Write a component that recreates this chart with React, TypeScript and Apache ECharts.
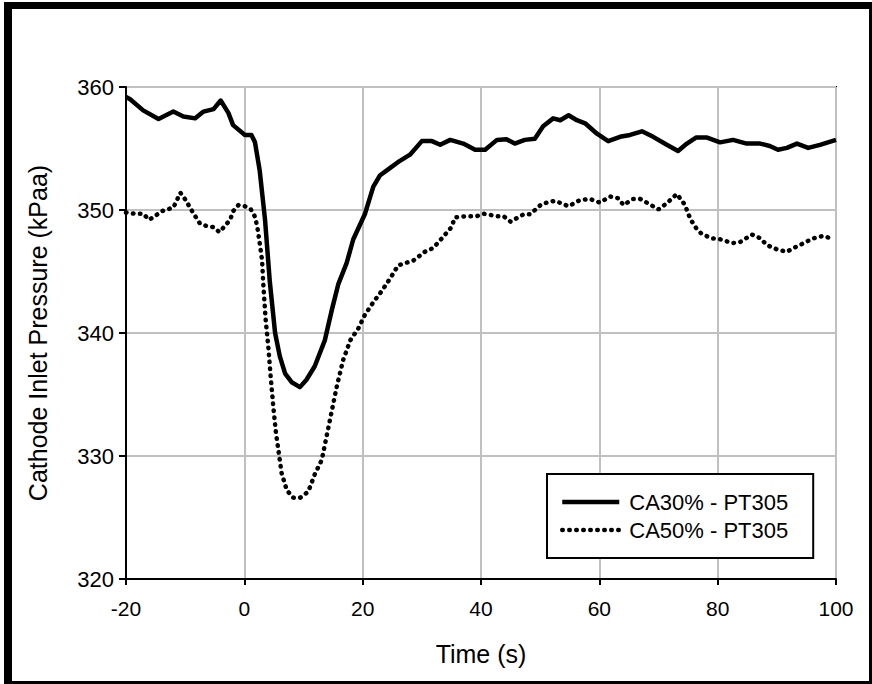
import React, { useEffect, useRef } from "react";
import * as echarts from "echarts";

const seriesNames = ["CA30% - PT305", "CA50% - PT305"];

const timeA = [-20, -19.3, -17.1, -14.5, -12.0, -10.3, -8.3, -6.9, -5.2, -4.0, -2.7, -1.9, 0.1, 1.2, 1.8, 2.6, 3.5, 4.3, 5.2, 6.0, 6.9, 8.0, 9.4, 10.5, 11.9, 13.6, 14.8, 15.9, 17.3, 18.4, 20.4, 21.8, 22.9, 24.6, 26.3, 28.0, 30.0, 31.7, 33.1, 34.8, 37.0, 39.0, 40.7, 42.7, 44.3, 45.7, 47.4, 49.1, 50.5, 52.2, 53.4, 54.8, 56.2, 57.6, 59.6, 61.5, 63.5, 65.2, 67.2, 69.1, 71.4, 73.3, 74.8, 76.4, 78.1, 80.4, 82.6, 84.9, 87.2, 88.8, 90.2, 91.7, 93.4, 95.3, 97.3, 100];
const pressureA = [359.2, 359.0, 358.1, 357.4, 358.0, 357.6, 357.45, 358.0, 358.2, 358.9, 357.9, 356.9, 356.1, 356.1, 355.5, 353.2, 349.2, 344.2, 340.0, 338.1, 336.7, 336.0, 335.6, 336.2, 337.3, 339.4, 341.9, 344.0, 345.7, 347.6, 349.7, 351.9, 352.8, 353.4, 354.0, 354.5, 355.6, 355.6, 355.3, 355.7, 355.4, 354.9, 354.9, 355.7, 355.75, 355.4, 355.7, 355.8, 356.8, 357.45, 357.3, 357.7, 357.3, 357.05, 356.2, 355.6, 355.95, 356.1, 356.4, 355.95, 355.3, 354.8, 355.4, 355.9, 355.9, 355.5, 355.7, 355.4, 355.4, 355.2, 354.9, 355.05, 355.4, 355.05, 355.3, 355.7];

const timeB = [-20, -18.5, -17.1, -16.1, -15.1, -14.0, -12.0, -11.3, -10.8, -9.9, -9.2, -8.3, -7.5, -6.4, -5.2, -4.2, -3.3, -2.4, -1.9, -1.0, 0.1, 1.1, 1.8, 2.2, 2.6, 3.0, 3.2, 3.6, 4.05, 4.45, 4.9, 5.35, 5.75, 6.3, 7.2, 8.3, 9.4, 10.8, 11.9, 13.1, 13.9, 14.8, 15.6, 16.7, 17.9, 19.3, 20.4, 21.8, 23.2, 24.6, 26.0, 28.6, 30.5, 31.9, 33.4, 35.0, 35.6, 37.6, 39.3, 40.4, 42.7, 43.8, 45.0, 47.2, 48.3, 50.3, 52.5, 54.8, 56.7, 58.4, 60.1, 61.8, 63.2, 64.1, 65.7, 66.9, 68.0, 69.1, 70.0, 71.4, 73.1, 74.5, 75.0, 75.6, 76.4, 77.3, 79.0, 80.7, 82.4, 83.8, 85.8, 87.2, 88.3, 90.0, 91.7, 92.8, 94.5, 96.2, 97.9, 99.6];
const pressureB = [349.8, 349.7, 349.7, 349.2, 349.5, 349.9, 350.2, 350.9, 351.4, 350.8, 350.2, 349.5, 348.9, 348.7, 348.6, 348.2, 348.7, 349.2, 349.9, 350.4, 350.3, 350.05, 349.45, 348.6, 347.3, 345.9, 344.0, 341.1, 338.9, 336.45, 334.0, 331.85, 330.5, 328.6, 327.2, 326.6, 326.6, 327.1, 328.5, 329.7, 331.6, 333.7, 335.6, 337.8, 339.4, 340.4, 341.5, 342.5, 343.4, 344.4, 345.5, 345.9, 346.6, 346.9, 347.7, 348.6, 349.4, 349.5, 349.5, 349.7, 349.5, 349.5, 349.05, 349.65, 349.65, 350.5, 350.75, 350.3, 350.8, 350.9, 350.6, 351.1, 350.95, 350.4, 350.9, 350.9, 350.6, 350.3, 350.05, 350.55, 351.3, 350.4, 349.7, 349.1, 348.5, 348.05, 347.7, 347.6, 347.3, 347.4, 348.0, 347.7, 347.15, 346.8, 346.6, 346.9, 347.3, 347.7, 347.9, 347.6];

const xTicks = { min: -20, max: 100, interval: 20 };
const yTicks = { min: 320, max: 360, interval: 10 };
const xTitle = "Time (s)";
const yTitle = "Cathode Inlet Pressure (kPaa)";

const FONT = "'Liberation Sans', Arial, sans-serif";

export default function App() {
  const ref = useRef<HTMLDivElement>(null);
  useEffect(() => {
    if (!ref.current) return;
    const chart = echarts.init(ref.current, undefined, { renderer: "svg" });
    const dataA = timeA.map((t, i) => [t, pressureA[i]]);
    const dataB = timeB.map((t, i) => [t, pressureB[i]]);
    const solid = { color: "#000", width: 4.5, type: "solid", cap: "butt" };
    const dotted = { color: "#000", width: 4.5, type: [0.5, 6.5], cap: "round" };
    chart.setOption({
      animation: false,
      backgroundColor: "#fff",
      textStyle: { fontFamily: FONT },
      grid: {
        left: 126,
        right: 36,
        top: 87,
        bottom: 105,
        show: true,
        borderColor: "#000",
        borderWidth: 2,
        backgroundColor: "transparent",
      },
      xAxis: {
        type: "value",
        min: xTicks.min,
        max: xTicks.max,
        interval: xTicks.interval,
        name: xTitle,
        nameLocation: "middle",
        nameGap: 62,
        nameTextStyle: { fontSize: 25, color: "#000", fontFamily: FONT },
        axisLine: { onZero: false, lineStyle: { color: "#000", width: 2 } },
        axisTick: { show: true, length: 6, lineStyle: { color: "#000", width: 2 } },
        axisLabel: { fontSize: 21, color: "#000", margin: 19, fontFamily: FONT },
        splitLine: { show: true, lineStyle: { color: "#c0c0c0", width: 2 } },
      },
      yAxis: {
        type: "value",
        min: yTicks.min,
        max: yTicks.max,
        interval: yTicks.interval,
        name: yTitle,
        nameLocation: "middle",
        nameGap: 76,
        nameTextStyle: { fontSize: 25, color: "#000", fontFamily: FONT },
        axisLine: { show: true, onZero: false, lineStyle: { color: "#000", width: 2 } },
        axisTick: { show: true, length: 7, lineStyle: { color: "#000", width: 2 } },
        axisLabel: { fontSize: 22, color: "#000", margin: 12, fontFamily: FONT },
        splitLine: { show: true, lineStyle: { color: "#c0c0c0", width: 2 } },
      },
      legend: {
        orient: "vertical",
        left: 547,
        top: 474,
        width: 275,
        backgroundColor: "#fff",
        borderColor: "#000",
        borderWidth: 2,
        padding: [17, 25, 17, 13],
        itemWidth: 57,
        itemHeight: 14,
        itemGap: 6,
        itemStyle: { opacity: 0 },
        textStyle: { fontSize: 22, color: "#000", fontFamily: FONT, padding: [0, 0, 0, 5] },
        data: [
          { name: seriesNames[0], lineStyle: solid, itemStyle: { opacity: 0 } },
          { name: seriesNames[1], lineStyle: dotted, itemStyle: { opacity: 0 } },
        ],
      },
      series: [
        {
          name: seriesNames[0],
          type: "line",
          data: dataA,
          symbol: "none",
          smooth: false,
          lineStyle: { ...solid, join: "round" },
          itemStyle: { color: "#000" },
          z: 3,
        },
        {
          name: seriesNames[1],
          type: "line",
          data: dataB,
          symbol: "none",
          smooth: false,
          lineStyle: dotted,
          itemStyle: { color: "#000" },
          z: 3,
        },
      ],
      graphic: [
        { type: "rect", left: 4, top: 2, shape: { width: 868, height: 7 }, style: { fill: "#000" }, z: 100 },
        { type: "rect", left: 4, top: 2, shape: { width: 8, height: 682 }, style: { fill: "#000" }, z: 100 },
        { type: "rect", left: 4, top: 681, shape: { width: 868, height: 3 }, style: { fill: "#000" }, z: 100 },
        { type: "rect", left: 869, top: 2, shape: { width: 3, height: 682 }, style: { fill: "#000" }, z: 100 },
      ],
    });
    return () => chart.dispose();
  }, []);
  return <div ref={ref} style={{ width: 872, height: 684, position: "absolute", left: 0, top: 0 }} />;
}
